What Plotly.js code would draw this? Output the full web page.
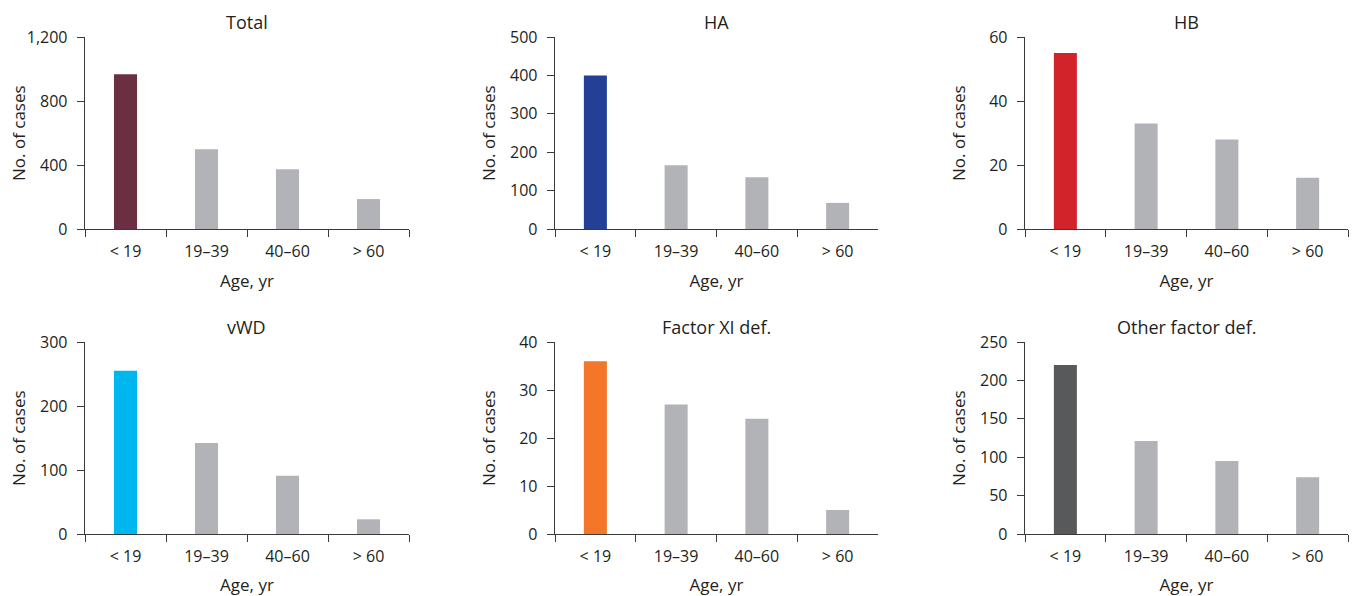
<!DOCTYPE html>
<html><head><meta charset="utf-8">
<script src="https://cdn.plot.ly/plotly-3.0.1.min.js"></script>
<style>html,body{margin:0;padding:0;background:#fff}#chart{width:1356px;height:596px}</style>
</head><body><div id="chart"></div>
<script>
const categories = ["< 19", "19–39", "40–60", "> 60"];
const panelTitles = ["Total", "HA", "HB", "vWD", "Factor XI def.", "Other factor def."];
const totalValues = [967, 499, 374, 187];
const haValues = [400, 166, 135, 68];
const hbValues = [55, 33, 28, 16];
const vwdValues = [255, 142, 91, 23];
const fxiValues = [36, 27, 24, 5];
const otherValues = [220, 121, 95, 74];
const yMax = [1200, 500, 60, 300, 40, 250];
const yDtick = [400, 100, 20, 100, 10, 50];
const highlightColors = ["#6a2f41", "#233f96", "#d2232a", "#00b6ee", "#f37629", "#58595b"];
const greyColor = "#b2b3b6";
const xTitle = "Age, yr";
const yTitle = "No. of cases";

const series = [totalValues, haValues, hbValues, vwdValues, fxiValues, otherValues];
const W = 1356, H = 596;
const xPix = [[85, 409], [555, 878], [1025, 1348]];
const yPix = [[37, 229], [342, 534]];
const font = "Open Sans, sans-serif";
const txt = "#231f20";
const axisColor = "#3a3a3a";

const data = [];
const layout = {
  width: W, height: H, margin: {l: 0, r: 0, t: 0, b: 0},
  paper_bgcolor: "#fff", plot_bgcolor: "#fff", showlegend: false,
  font: {family: font, size: 16, color: txt},
  annotations: []
};
series.forEach((vals, i) => {
  const r = Math.floor(i / 3), c = i % 3;
  const n = i + 1;
  const xa = "x" + (n === 1 ? "" : n), ya = "y" + (n === 1 ? "" : n);
  data.push({
    type: "bar", x: categories, y: vals, xaxis: xa, yaxis: ya,
    marker: {color: vals.map((v, k) => k === 0 ? highlightColors[i] : greyColor)},
    width: 0.285, hoverinfo: "x+y"
  });
  const xd = [xPix[c][0] / W, xPix[c][1] / W];
  const yd = [1 - yPix[r][1] / H, 1 - yPix[r][0] / H];
  layout["xaxis" + (n === 1 ? "" : n)] = {
    domain: xd, anchor: ya, type: "category", range: [-0.5, 3.5],
    showline: true, linecolor: axisColor, linewidth: 1.3,
    ticks: "outside", ticklen: 7, tickwidth: 1, tickcolor: axisColor,
    tickson: "boundaries", showgrid: false, zeroline: false,
    ticklabelstandoff: 7,
    tickfont: {family: font, size: 16, color: txt},
    title: {text: xTitle, font: {family: font, size: 17, color: txt}, standoff: 14}
  };
  layout["yaxis" + (n === 1 ? "" : n)] = {
    domain: yd, anchor: xa, range: [0, yMax[i]], dtick: yDtick[i], tick0: 0,
    showline: true, linecolor: axisColor, linewidth: 1.3,
    ticks: "outside", ticklen: 7, tickwidth: 1, tickcolor: axisColor,
    showgrid: false, zeroline: false, tickformat: ",d",
    ticklabelstandoff: 6,
    tickfont: {family: font, size: 16, color: txt}
  };
  layout.annotations.push({
    text: panelTitles[i], xref: "paper", yref: "paper",
    x: (xd[0] + xd[1]) / 2, y: 1 - (yPix[r][0] - 15) / H,
    xanchor: "center", yanchor: "middle", showarrow: false,
    font: {family: font, size: 18, color: txt}
  });
  layout.annotations.push({
    text: yTitle, xref: "paper", yref: "paper", textangle: -90,
    x: (xPix[c][0] - 67) / W, y: (yd[0] + yd[1]) / 2,
    xanchor: "center", yanchor: "middle", showarrow: false,
    font: {family: font, size: 17, color: txt}
  });
});
Plotly.newPlot("chart", data, layout, {displayModeBar: false, staticPlot: true});
</script></body></html>
